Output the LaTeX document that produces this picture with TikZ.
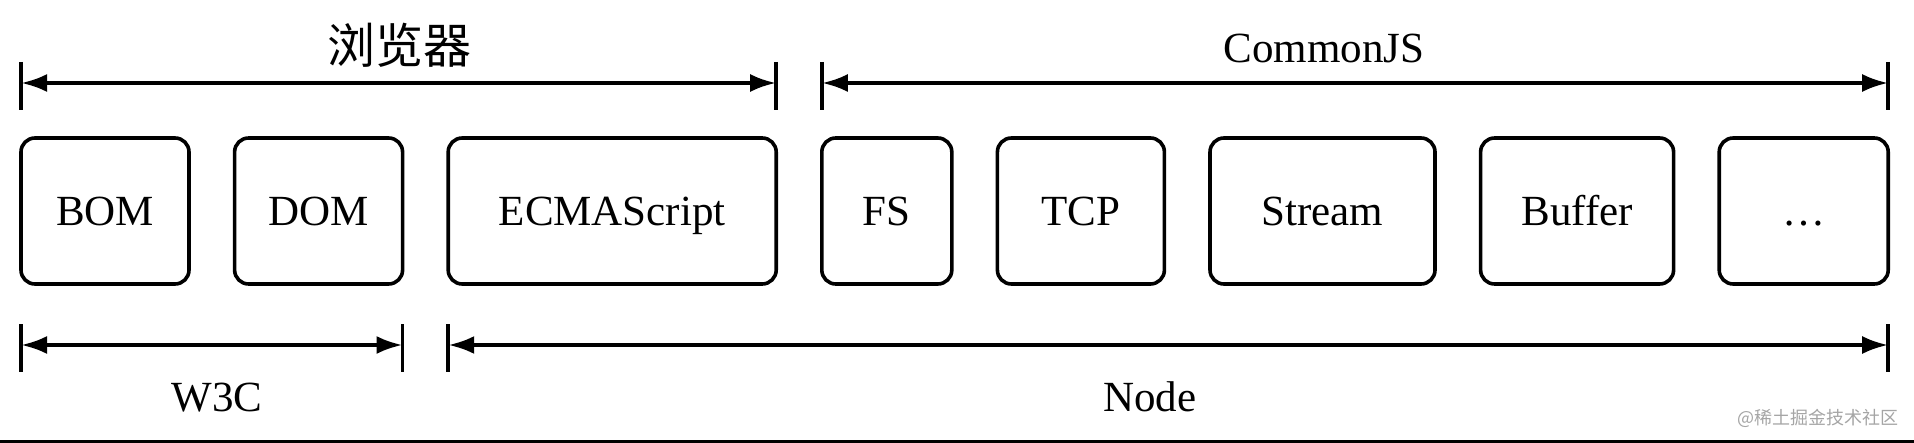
\documentclass[tikz,border=0pt]{standalone}
\usepackage{fontspec}
\setmainfont{Liberation Serif}
\newfontfamily\cjk{Noto Sans CJK SC}
\usetikzlibrary{arrows.meta,positioning}
\definecolor{wmgray}{RGB}{165,165,165}

\begin{document}
\begin{tikzpicture}[x=0.5pt,y=-0.5pt,>={Latex[length=13pt,width=9pt]},font=\fontsize{21.5pt}{24pt}\selectfont,node distance=22.8pt,
    box/.style={draw,line width=1.8pt,rounded corners=7pt,minimum height=73pt,inner sep=0pt,outer sep=0pt,text height=14.2pt,text depth=0pt},
    lbl/.style={inner sep=0pt,text height=14.2pt,text depth=0pt},
    span/.style={<->,line width=2pt},
    tick/.style={line width=1.8pt}]
    \useasboundingbox (0,0) rectangle (1914,443);
    \node[box,minimum width=84pt,anchor=north west] (bom) at (21,138) {BOM};
    \node[box,minimum width=84pt,right=of bom] (dom) {DOM};
    \node[box,minimum width=164pt,right=of dom] (ecma) {ECMAScript};
    \node[box,minimum width=65pt,right=of ecma] (fs) {FS};
    \node[box,minimum width=83.5pt,right=of fs] (tcp) {TCP};
    \node[box,minimum width=112.5pt,right=of tcp] (stream) {Stream};
    \node[box,minimum width=96.5pt,right=of stream] (buffer) {Buffer};
    \node[box,minimum width=84.5pt,right=of buffer] (etc) {…};
    \foreach \n/\a/\b/\y in {browser/bom.west/ecma.east/83,cjs/fs.west/etc.east/83,w3c/bom.west/dom.east/345,nodejs/ecma.west/etc.east/345}{
      \coordinate (\n-l) at (\a |- 0,\y);
      \coordinate (\n-r) at (\b |- 0,\y);
      \draw[tick] ([yshift=10.5pt]\n-l) -- ([yshift=-13.5pt]\n-l);
      \draw[tick] ([yshift=10.5pt]\n-r) -- ([yshift=-13.5pt]\n-r);
      \draw[span] (\n-l) -- (\n-r);
    }
    \node[inner sep=0pt] (browser) at (399,45) {\cjk\fontsize{24pt}{26pt}\selectfont 浏览器};
    \node[lbl] (cjs) at (1324,48) {CommonJS};
    \node[lbl] (w3c) at (217,397) {W3C};
    \node[lbl] (nodejs) at (1150,397) {Node};
    \node[text=wmgray,inner sep=0pt,font=\cjk\fontsize{9pt}{10pt}\selectfont] (wm) at (1818,418) {@稀土掘金技术社区};
    \fill (0,440) rectangle (1914,443);
  \end{tikzpicture}
\end{document}
